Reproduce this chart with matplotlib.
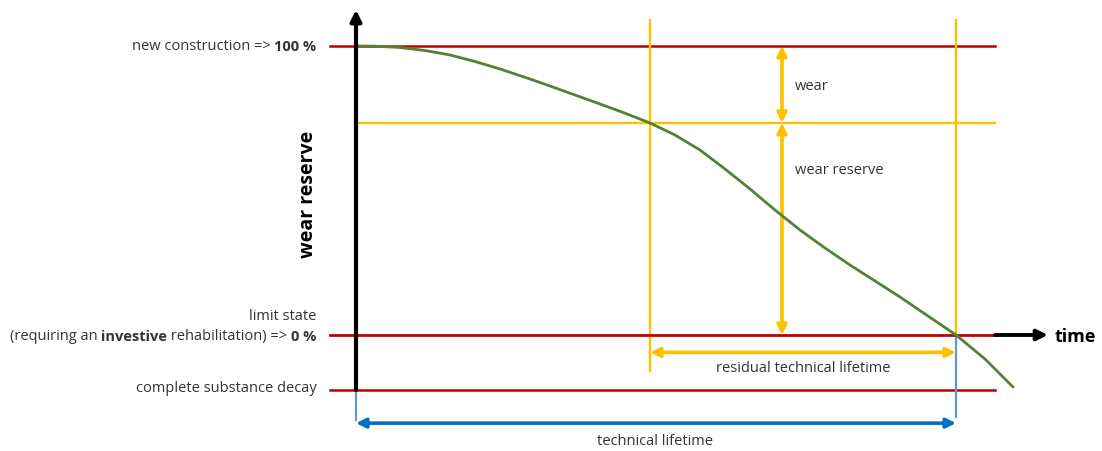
import matplotlib
matplotlib.use("Agg")
import matplotlib.pyplot as plt

# ---- data (time in % of technical lifetime, condition in % wear reserve) ----
curve_t = [0, 3.17, 7.33, 11.5, 15.67, 19.83, 24.0, 28.17, 32.33, 36.5, 40.67, 44.83, 49.0,
           53.17, 57.33, 61.5, 65.67, 69.83, 74.0, 78.17, 82.33, 86.5, 90.67, 95.33, 100,
           104.83, 109.5]
curve_v = [100, 99.93, 99.48, 98.44, 96.89, 94.64, 92.04, 89.17, 86.16, 83.04, 79.93, 76.75,
           73.36, 69.20, 64.01, 57.44, 50.52, 43.25, 36.33, 30.10, 24.22, 18.69, 13.15, 6.57,
           0, -8.30, -18.0]

level_new = 100
level_inspect = 73.4
level_limit = 0
level_decay = -19
t_inspect = 49
t_life = 100
t_wear_arrow = 71
t_line_end = 106.5
t_axis_end = 115.3
v_axis_top = 112
y_resid_arrow = -6
y_life_arrow = -30.5

RED = "#C00000"
YEL = "#FFC000"
GRN = "#548235"
BLU = "#0070C0"
LBLU = "#5B9BD5"
TXT = "#333333"
FONT = ["Open Sans", "DejaVu Sans"]

fig = plt.figure(figsize=(11.02, 4.52), dpi=100)
ax = fig.add_axes([0, 0, 1, 1])
ax.set_xlim(-59.33, 124.33)
ax.set_ylim(-40.14, 116.26)
ax.axis("off")

# horizontal level lines
ax.plot([-4.3, t_line_end], [level_new, level_new], color=RED, lw=1.8, zorder=2)
ax.plot([0.3, t_line_end], [level_inspect, level_inspect], color=YEL, lw=1.7, zorder=2)
ax.plot([-4.3, t_line_end], [level_limit, level_limit], color=RED, lw=2.0, zorder=3)
ax.plot([-4.3, t_line_end], [level_decay, level_decay], color=RED, lw=1.8, zorder=2)

# time axis extension
ax.annotate("", xy=(t_axis_end, level_limit), xytext=(t_line_end, level_limit),
            arrowprops=dict(arrowstyle="-|>", color="black", lw=2.8, mutation_scale=16,
                            shrinkA=0, shrinkB=0), zorder=4)
# vertical axis
ax.annotate("", xy=(0, v_axis_top + 0.5), xytext=(0, level_decay),
            arrowprops=dict(arrowstyle="-|>", color="black", lw=3.0, mutation_scale=16,
                            shrinkA=0, shrinkB=0), zorder=5)

# vertical yellow lines
ax.plot([t_inspect, t_inspect], [-12.5, 109], color=YEL, lw=1.7, zorder=2)
ax.plot([t_life, t_life], [level_limit, 109], color=YEL, lw=1.7, zorder=2)
# light blue verticals
ax.plot([t_life, t_life], [level_limit, -28.5], color=LBLU, lw=1.6, zorder=2)
ax.plot([0, 0], [level_decay, -29.5], color=LBLU, lw=1.6, zorder=2)

# curve
ax.plot(curve_t, curve_v, color=GRN, lw=2.0, zorder=4, solid_capstyle="round",
        solid_joinstyle="round")

# yellow double arrows
arrow_y = dict(arrowstyle="<|-|>", color=YEL, lw=2.6, mutation_scale=14, shrinkA=0, shrinkB=0)
ax.annotate("", xy=(t_wear_arrow, level_new), xytext=(t_wear_arrow, level_inspect),
            arrowprops=arrow_y, zorder=3)
ax.annotate("", xy=(t_wear_arrow, level_inspect), xytext=(t_wear_arrow, level_limit),
            arrowprops=arrow_y, zorder=3)
ax.annotate("", xy=(t_inspect, y_resid_arrow), xytext=(t_life, y_resid_arrow),
            arrowprops=arrow_y, zorder=3)
# blue arrow
ax.annotate("", xy=(0, y_life_arrow), xytext=(t_life, y_life_arrow),
            arrowprops=dict(arrowstyle="<|-|>", color=BLU, lw=2.6, mutation_scale=14,
                            shrinkA=0, shrinkB=0), zorder=3)

# texts
fs = 10.5
ax.text(t_wear_arrow + 2.2, 86.2, "wear", fontsize=fs, color=TXT, family=FONT, va="center")
ax.text(t_wear_arrow + 2.2, 57.4, "wear reserve", fontsize=fs, color=TXT, family=FONT, va="center")
ax.text((t_inspect + t_life) / 2, -11.2, "residual technical lifetime", fontsize=fs, color=TXT,
        family=FONT, ha="center", va="center")
ax.text(t_life / 2 - 0.2, -36.4, "technical lifetime", fontsize=fs, color=TXT, family=FONT,
        ha="center", va="center")
ax.text(t_axis_end + 1.2, level_limit - 0.5, "time", fontsize=13, color="black", family=FONT,
        fontweight="bold", ha="left", va="center")
ax.text(-8.0, 49, "wear reserve", fontsize=14, color="black", family=FONT, fontweight="bold",
        rotation=90, ha="center", va="center")

renderer = fig.canvas.get_renderer()


def text_width(txt, bold):
    def w(s):
        t = ax.text(0, 0, s, fontsize=fs, family=FONT,
                    fontweight="bold" if bold else "normal", transform=None)
        width = t.get_window_extent(renderer=renderer).width
        t.remove()
        return width
    return w("|" + txt + "|") - w("||")


def rich_right(x_right, y, parts):
    """parts: list of (text, bold); the run of parts ends at x_right."""
    x_px, y_px = ax.transData.transform((x_right, y))
    widths = [text_width(txt, bold) for txt, bold in parts]
    x = x_px - sum(widths)
    for (txt, bold), wd in zip(parts, widths):
        ax.text(x, y_px, txt, fontsize=fs, color=TXT, family=FONT,
                fontweight="bold" if bold else "normal", ha="left", va="center",
                transform=None)
        x += wd


x_lab = -6.6
rich_right(x_lab, level_new, [("new construction => ", False), ("100 %", True)])
rich_right(x_lab, 6.6, [("limit state", False)])
rich_right(x_lab, level_limit - 0.3, [("(requiring an ", False), ("investive", True),
                                      (" rehabilitation) => ", False), ("0 %", True)])
rich_right(x_lab, level_decay + 0.8, [("complete substance decay", False)])

fig.savefig("out.png", dpi=100)
